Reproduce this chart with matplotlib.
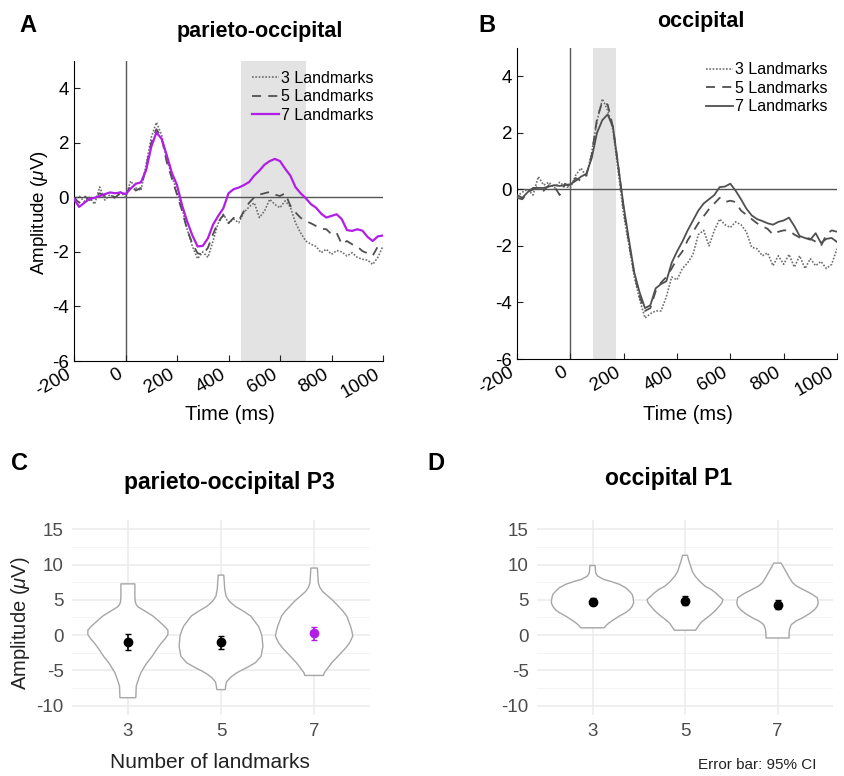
import matplotlib
matplotlib.use("Agg")
import matplotlib.pyplot as plt
import numpy as np

plt.rcParams['font.family'] = ['Liberation Sans', 'DejaVu Sans']
plt.rcParams['mathtext.fontset'] = 'custom'
plt.rcParams['mathtext.it'] = 'Liberation Sans:italic'
plt.rcParams['axes.unicode_minus'] = False

# ---- ERP time axis (ms) ----
t = list(range(-200, 1001, 20))

# parieto-occipital waveforms (uV)
a3 = [-0.1, 0.05, -0.15, 0.0, -0.25, 0.38, -0.1, 0.1, -0.05, 0.2, 0.0, 0.6, 0.35, 0.25, 1.2, 2.2,
      2.75, 2.3, 1.4, 0.8, 0.2, -0.4, -1.2, -1.8, -2.25, -2.0, -2.2, -1.6, -0.95, -0.62, -0.93,
      -0.8, -0.93, -0.55, -0.35, -0.2, -0.74, -0.5, -0.07, -0.26, -0.38, -0.13, -0.35, -0.93,
      -1.3, -1.6, -1.72, -1.8, -2.03, -1.9, -2.09, -1.95, -2.0, -2.15, -2.03, -2.2, -2.27,
      -2.3, -2.46, -2.2, -1.78]
a5 = [0.0, -0.2, 0.05, -0.1, 0.0, 0.15, 0.05, 0.1, 0.0, 0.15, 0.05, 0.45, 0.25, 0.35, 1.1, 2.0,
      2.5, 2.2, 1.3, 0.7, 0.1, -0.5, -1.2, -1.7, -2.05, -2.1, -1.85, -1.35, -0.9, -0.65, -0.95,
      -0.75, -0.85, -0.5, -0.2, 0.0, 0.1, 0.15, 0.2, 0.1, 0.05, 0.15, -0.3, -0.55, -0.75, -0.87,
      -0.95, -1.05, -1.15, -1.17, -1.35, -1.3, -1.72, -1.6, -1.72, -1.8, -1.97, -2.05, -2.14,
      -1.8, -1.66]
a7 = [-0.07, -0.35, -0.2, -0.05, -0.02, 0.05, 0.12, 0.18, 0.15, 0.18, 0.12, 0.32, 0.5, 0.55, 1.0,
      1.85, 2.38, 2.15, 1.55, 0.9, 0.45, -0.3, -0.9, -1.4, -1.8, -1.78, -1.5, -1.0, -0.68, -0.4,
      0.15, 0.3, 0.36, 0.45, 0.56, 0.8, 0.98, 1.2, 1.33, 1.41, 1.33, 1.05, 0.8, 0.38, 0.15,
      -0.03, -0.25, -0.38, -0.6, -0.74, -0.68, -0.62, -0.8, -1.2, -1.23, -1.17, -1.22, -1.45,
      -1.6, -1.43, -1.4]

# occipital waveforms (uV)
b3 = [-0.25, -0.1, 0.0, -0.2, 0.45, 0.15, 0.25, 0.05, 0.25, 0.1, 0.05, 0.5, 0.75, 0.45, 1.3, 2.4,
      3.2, 2.8, 2.1, 0.6, -0.9, -2.0, -3.1, -3.9, -4.55, -4.4, -4.3, -4.3, -3.8, -3.1, -3.2,
      -2.8, -2.6, -2.3, -1.6, -1.45, -2.0, -1.45, -1.05, -1.25, -1.35, -1.15, -1.25, -1.5,
      -2.05, -2.1, -2.35, -2.25, -2.7, -2.35, -2.65, -2.3, -2.75, -2.35, -2.8, -2.45, -2.7,
      -2.55, -2.8, -2.65, -2.1]
b5 = [-0.3, -0.35, -0.1, 0.0, 0.1, -0.05, 0.15, 0.1, -0.2, 0.2, 0.1, 0.4, 0.3, 0.5, 1.2, 2.5,
      3.1, 3.0, 2.2, 0.8, -0.7, -1.9, -3.0, -3.8, -4.3, -4.2, -3.6, -3.3, -3.1, -2.8, -2.45,
      -2.2, -1.8, -1.5, -1.2, -0.95, -0.7, -0.5, -0.3, -0.45, -0.4, -0.45, -0.75, -0.9, -1.05,
      -1.2, -1.3, -1.4, -1.6, -1.5, -1.45, -1.45, -1.6, -1.7, -1.7, -1.75, -1.85, -2.0, -1.6,
      -1.45, -1.5]
b7 = [-0.2, -0.3, -0.1, 0.05, 0.05, 0.05, 0.1, 0.15, 0.12, 0.15, 0.18, 0.3, 0.45, 0.55, 1.1, 2.0,
      2.45, 2.65, 2.2, 0.8, -0.6, -1.8, -2.95, -3.65, -4.2, -4.1, -3.5, -3.35, -3.25, -2.6, -2.2,
      -1.85, -1.45, -1.1, -0.75, -0.5, -0.35, -0.2, 0.08, 0.1, 0.2, -0.05, -0.35, -0.68, -0.92,
      -1.05, -1.12, -1.2, -1.25, -1.15, -1.1, -1.0, -1.3, -1.65, -1.72, -1.78, -1.55, -1.9,
      -1.75, -1.72, -1.86]

legend_labels = ['3 Landmarks', '5 Landmarks', '7 Landmarks']
window_a = [450, 700]
window_b = [85, 170]

# ---- violin outlines (amplitude level, half width in category units) ----
categories = ['3', '5', '7']
c3_y = [-8.85, -7.2, -6.0, -5.3, -4.0, -3.0, -2.0, -1.1, -0.5, 0.1, 0.7, 1.3, 2.0, 2.7, 3.2,
        3.6, 4.0, 4.3, 4.8, 5.5, 7.26]
c3_w = [0.085, 0.09, 0.12, 0.14, 0.2, 0.26, 0.31, 0.36, 0.40, 0.43, 0.43, 0.39, 0.33, 0.27,
        0.21, 0.16, 0.11, 0.09, 0.078, 0.075, 0.075]
c5_y = [-7.7, -7.2, -6.6, -6.0, -5.5, -5.1, -4.5, -3.9, -3.0, -1.6, -0.14, 0.7, 1.3, 2.0, 2.7,
        3.4, 4.1, 4.8, 5.5, 6.5, 8.5]
c5_w = [0.045, 0.05, 0.06, 0.1, 0.15, 0.2, 0.29, 0.37, 0.43, 0.45, 0.44, 0.42, 0.40, 0.36,
        0.32, 0.24, 0.15, 0.09, 0.055, 0.04, 0.03]
c7_y = [-5.7, -5.3, -4.6, -3.9, -3.2, -2.5, -1.8, -1.1, -0.14, 0.6, 1.3, 2.0, 2.7, 3.4, 4.1,
        4.8, 5.5, 6.2, 6.8, 7.4, 9.5]
c7_w = [0.10, 0.11, 0.15, 0.19, 0.24, 0.29, 0.34, 0.38, 0.415, 0.405, 0.39, 0.37, 0.35, 0.31,
        0.26, 0.21, 0.15, 0.09, 0.06, 0.045, 0.035]
d3_y = [1.04, 1.4, 1.75, 2.2, 2.7, 3.2, 3.6, 4.1, 4.6, 5.2, 5.75, 6.2, 6.7, 7.2, 7.6, 7.9,
        8.35, 8.8, 9.86]
d3_w = [0.125, 0.15, 0.18, 0.23, 0.29, 0.36, 0.40, 0.43, 0.445, 0.44, 0.43, 0.40, 0.36, 0.29,
        0.20, 0.12, 0.057, 0.035, 0.027]
d5_y = [0.7, 1.2, 1.75, 2.3, 2.9, 3.5, 4.1, 4.6, 5.05, 5.5, 6.0, 6.5, 6.9, 7.6, 8.35, 9.0,
        9.8, 10.6, 11.3]
d5_w = [0.115, 0.14, 0.17, 0.22, 0.28, 0.33, 0.37, 0.40, 0.41, 0.37, 0.33, 0.28, 0.22, 0.16,
        0.11, 0.08, 0.06, 0.04, 0.027]
d7_y = [-0.4, 0.2, 0.8, 1.2, 1.5, 2.0, 2.45, 3.0, 3.6, 4.1, 4.6, 5.3, 5.9, 6.5, 7.0, 7.4, 8.1,
        8.8, 9.5, 10.2]
d7_w = [0.125, 0.125, 0.13, 0.14, 0.15, 0.2, 0.27, 0.34, 0.40, 0.43, 0.44, 0.43, 0.36, 0.27,
        0.2, 0.165, 0.13, 0.10, 0.07, 0.04]

p3_mean = [-1.0, -1.0, 0.24]
p3_ci = [1.1, 0.9, 0.95]
p1_mean = [4.7, 4.85, 4.3]
p1_ci = [0.5, 0.65, 0.65]

purple = '#B01EE8'
W, H = 844, 776
fig = plt.figure(figsize=(W / 100, H / 100), dpi=100)


def box(x0, y0, x1, y1):
    return [x0 / W, 1 - y1 / H, (x1 - x0) / W, (y1 - y0) / H]


def ftext(x, y, s, **kw):
    fig.text(x / W, 1 - y / H, s, ha=kw.pop('ha', 'center'), va=kw.pop('va', 'center'), **kw)


def erp_axes(rect, d3, d5, d7, col7, win, leg_top):
    ax = fig.add_axes(rect)
    ax.axvspan(win[0], win[1], color='#E3E3E3', lw=0, zorder=0)
    ax.axhline(0, color='#555555', lw=1.0, zorder=1)
    ax.axvline(0, color='#555555', lw=1.0, zorder=1)
    ax.plot(t, d3, color='#6E6E6E', lw=1.2, ls=(0, (1, 1)), label=legend_labels[0], zorder=3)
    ax.plot(t, d5, color='#505050', lw=1.3, ls=(0, (5, 4)), label=legend_labels[1], zorder=3)
    ax.plot(t, d7, color=col7, lw=1.6 if col7 == purple else 1.3, label=legend_labels[2], zorder=4)
    ax.set_xlim(-200, 1000)
    ax.set_ylim(-6, 5)
    ax.set_yticks([-6, -4, -2, 0, 2, 4])
    ax.set_xticks(range(-200, 1001, 200))
    for sp in ['top', 'right']:
        ax.spines[sp].set_visible(False)
    ax.tick_params(direction='in', length=4, labelsize=13.5, color='#222222')
    plt.setp(ax.get_xticklabels(), rotation=30, ha='right')
    ax.legend(loc='upper right', bbox_to_anchor=(1.0, leg_top), frameon=False, fontsize=11.5,
              handlelength=1.7, handletextpad=0.1, labelspacing=0.22, borderaxespad=0.2)
    return ax


erp_axes(box(74, 61, 383, 361), a3, a5, a7, purple, window_a, 1.0)
erp_axes(box(517, 48, 837, 359), b3, b5, b7, '#505050', window_b, 0.985)


def violin_axes(rect, profiles, means, cis, pcols):
    ax = fig.add_axes(rect)
    ax.set_xlim(0.4, 3.6)
    ax.set_ylim(-11.3, 16.3)
    for v in [-10, -5, 0, 5, 10, 15]:
        ax.axhline(v, color='#EBEBEB', lw=1.1, zorder=0)
    for v in [-7.5, -2.5, 2.5, 7.5, 12.5]:
        ax.axhline(v, color='#F2F2F2', lw=0.6, zorder=0)
    for i in range(3):
        ax.axvline(i + 1, color='#EBEBEB', lw=1.1, zorder=0)
    for i, (yy, ww) in enumerate(profiles):
        yy = np.array(yy)
        ww = np.array(ww)
        xs = np.concatenate([i + 1 - ww, (i + 1 + ww)[::-1], [i + 1 - ww[0]]])
        ys = np.concatenate([yy, yy[::-1], [yy[0]]])
        ax.fill(xs, ys, facecolor='white', edgecolor='#A6A6A6', lw=1.0, zorder=2,
                joinstyle='round')
        ax.errorbar(i + 1, means[i], yerr=cis[i], fmt='o', color=pcols[i], ms=6,
                    capsize=2, elinewidth=1.2, capthick=1.0, zorder=3)
    ax.set_xticks([1, 2, 3])
    ax.set_xticklabels(categories)
    ax.set_yticks([-10, -5, 0, 5, 10, 15])
    for sp in ax.spines.values():
        sp.set_visible(False)
    ax.tick_params(length=0, labelsize=13.5, labelcolor='#4D4D4D', pad=6)
    return ax


violin_axes(box(72, 520, 370, 715), [(c3_y, c3_w), (c5_y, c5_w), (c7_y, c7_w)],
            p3_mean, p3_ci, ['black', 'black', purple])
violin_axes(box(537, 520, 833, 715), [(d3_y, d3_w), (d5_y, d5_w), (d7_y, d7_w)],
            p1_mean, p1_ci, ['black', 'black', 'black'])

# panel letters, titles and labels
ftext(28, 25, 'A', fontsize=17, fontweight='bold')
ftext(487, 25, 'B', fontsize=17, fontweight='bold')
ftext(20, 463, 'C', fontsize=17, fontweight='bold')
ftext(436, 463, 'D', fontsize=17, fontweight='bold')
ftext(260, 32, 'parieto-occipital', fontsize=15.5, fontweight='bold')
ftext(701, 22, 'occipital', fontsize=15.5, fontweight='bold')
ftext(229, 483, 'parieto-occipital P3', fontsize=16.5, fontweight='bold')
ftext(669, 478, 'occipital P1', fontsize=16.5, fontweight='bold')
ftext(40, 213, r'Amplitude ($\mu$V)', fontsize=13.5, rotation=90)
ftext(230, 415, 'Time (ms)', fontsize=14.5)
ftext(688, 415, 'Time (ms)', fontsize=14.5)
ftext(21, 623, r'Amplitude ($\mu$V)', fontsize=14.5, rotation=90, color='#222222')
ftext(210, 763, 'Number of landmarks', fontsize=15, color='#222222')
ftext(757, 765, 'Error bar: 95% CI', fontsize=11, color='#222222')

fig.savefig('out.png', dpi=100)
